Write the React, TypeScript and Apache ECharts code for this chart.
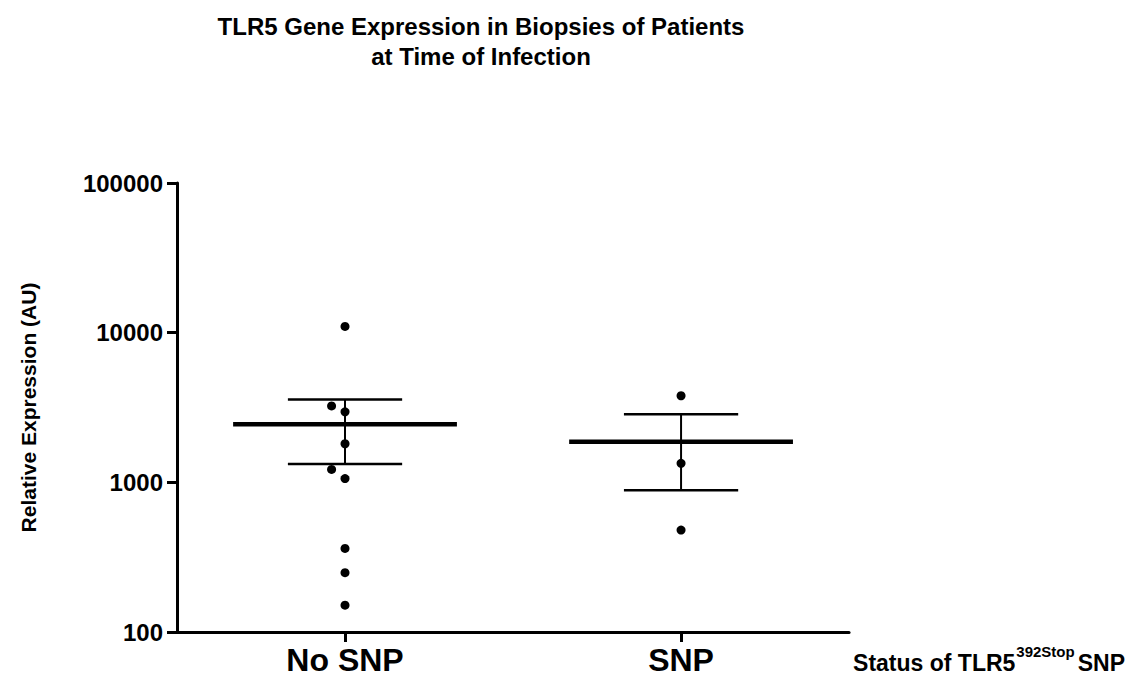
import React, { useEffect, useRef } from "react";
import * as echarts from "echarts";

const categories = ["No SNP", "SNP"];
const noSnpValues = [11000, 3240, 2960, 1810, 1220, 1060, 362, 249, 151];
const noSnpJitter = [0, -0.04, 0, 0, -0.04, 0, 0, 0, 0];
const snpValues = [3790, 1340, 480];
const snpJitter = [0, 0, 0];
const groupMeans = [2440, 1870];
const groupUpper = [3580, 2850];
const groupLower = [1325, 884];
const yTicks = [100, 1000, 10000, 100000];

const FONT = "Liberation Sans, Arial, sans-serif";

export default function App() {
  const ref = useRef<HTMLDivElement>(null);
  useEffect(() => {
    if (!ref.current) return;
    const chart = echarts.init(ref.current, null, { renderer: "svg" });
    const points: number[][] = [];
    noSnpValues.forEach((v, i) => points.push([0 + noSnpJitter[i], v]));
    snpValues.forEach((v, i) => points.push([1 + snpJitter[i], v]));
    const stats = categories.map((_, i) => [i, groupMeans[i], groupUpper[i], groupLower[i]]);

    chart.setOption({
      animation: false,
      backgroundColor: "#ffffff",
      graphic: [
        {
          type: "text",
          x: 481,
          y: 11,
          style: {
            text: "TLR5 Gene Expression in Biopsies of Patients\nat Time of Infection",
            font: `bold 24px ${FONT}`,
            fill: "#000",
            align: "center",
            verticalAlign: "top",
            lineHeight: 30,
          },
        },
      ],
      grid: { left: 177, right: 277, top: 183, bottom: 51, containLabel: false },
      xAxis: [
        {
          type: "category",
          data: categories,
          boundaryGap: true,
          axisLine: { show: true, lineStyle: { color: "#000", width: 3 } },
          axisTick: { show: true, alignWithLabel: true, length: 10, lineStyle: { color: "#000", width: 3 } },
          axisLabel: { color: "#000", fontSize: 32, fontWeight: "bold", fontFamily: FONT, margin: 12 },
          splitLine: { show: false },
          name: "{a|Status of TLR5}{sup|392Stop}{a|SNP}",
          nameLocation: "end",
          nameGap: 4,
          nameTextStyle: {
            verticalAlign: "top",
            padding: [12, 0, 0, 0],
            rich: {
              a: { fontSize: 23, fontWeight: "bold", fontFamily: FONT, color: "#000", verticalAlign: "bottom", lineHeight: 30 },
              sup: { fontSize: 15, fontWeight: "bold", fontFamily: FONT, color: "#000", verticalAlign: "top", lineHeight: 30, padding: [0, 3, 10, 1] },
            },
          },
        },
        { type: "value", min: -0.5, max: 1.5, show: false },
      ],
      yAxis: {
        type: "log",
        logBase: 10,
        min: 100,
        max: 100000,
        name: "Relative Expression (AU)",
        nameLocation: "middle",
        nameGap: 138,
        nameTextStyle: { color: "#000", fontSize: 21, fontWeight: "bold", fontFamily: FONT },
        axisLine: { show: true, onZero: false, lineStyle: { color: "#000", width: 3 } },
        axisTick: { show: true, length: 10, lineStyle: { color: "#000", width: 3 } },
        minorTick: { show: false },
        splitLine: { show: false },
        axisLabel: {
          color: "#000",
          fontSize: 24,
          fontWeight: "bold",
          fontFamily: FONT,
          margin: 14,
          formatter: (v: number) => (yTicks.includes(Math.round(v)) ? String(Math.round(v)) : ""),
        },
      },
      series: [
        {
          type: "custom",
          xAxisIndex: 1,
          data: stats,
          z: 3,
          renderItem: (params: any, api: any) => {
            const idx = api.value(0);
            const mean = api.coord([idx, api.value(1)]);
            const up = api.coord([idx, api.value(2)]);
            const lo = api.coord([idx, api.value(3)]);
            const unit = api.size([1, 0])[0];
            const mh = unit * 0.333;
            const ch = unit * 0.17;
            const s = { stroke: "#000" };
            return {
              type: "group",
              children: [
                { type: "line", shape: { x1: up[0], y1: up[1], x2: lo[0], y2: lo[1] }, style: { ...s, lineWidth: 2 } },
                { type: "line", shape: { x1: up[0] - ch, y1: up[1], x2: up[0] + ch, y2: up[1] }, style: { ...s, lineWidth: 2.5 } },
                { type: "line", shape: { x1: lo[0] - ch, y1: lo[1], x2: lo[0] + ch, y2: lo[1] }, style: { ...s, lineWidth: 2.5 } },
                { type: "line", shape: { x1: mean[0] - mh, y1: mean[1], x2: mean[0] + mh, y2: mean[1] }, style: { ...s, lineWidth: 4.5 } },
              ],
            };
          },
        },
        {
          type: "scatter",
          xAxisIndex: 1,
          data: points,
          symbol: "circle",
          symbolSize: 9,
          itemStyle: { color: "#000", opacity: 1 },
          z: 4,
        },
      ],
    });
    return () => chart.dispose();
  }, []);
  return <div ref={ref} style={{ width: 1128, height: 683, position: "absolute", left: 0, top: 0 }} />;
}
